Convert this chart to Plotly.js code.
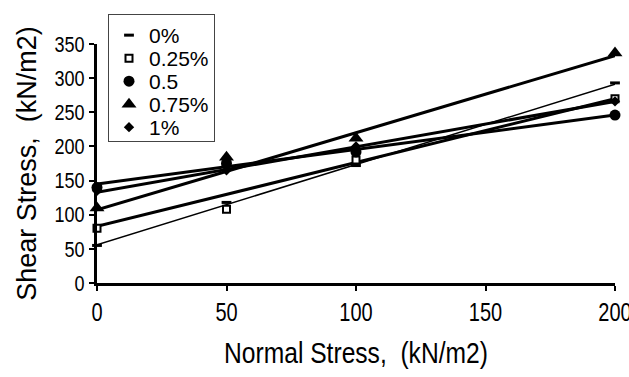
<!DOCTYPE html>
<html><head><meta charset="utf-8">
<script src="https://cdn.plot.ly/plotly-3.0.1.min.js"></script>
<style>html,body{margin:0;padding:0;background:#fff}#c{width:629px;height:377px}</style>
</head><body><div id="c"></div>
<script>
// Data
const normalStress = [0, 50, 100, 200];
const seriesNames = ["0%", "0.25%", "0.5", "0.75%", "1%"];
const shear0 = [55, 118, 172, 293];
const shear025 = [80, 108, 180, 270];
const shear05 = [140, 175, 192, 246];
const shear075 = [110, 184, 212, 337];
const shear1 = [135, 165, 200, 266];
// Linear trend line values (at normal stress 0 and 200)
const trendX = [0, 200];
const trend0 = [56, 291];
const trend025 = [83, 270];
const trend05 = [145, 246];
const trend075 = [107, 333];
const trend1 = [133, 266];

const FN = "Liberation Sans, Arial";
const symbols = ["line-ew", "square", "circle", "triangle-up", "diamond"];
const sizes = [7, 7, 11, 13, 8];
const seriesY = [shear0, shear025, shear05, shear075, shear1];
const trends = [trend0, trend025, trend05, trend075, trend1];
const trendW = [1.5, 3, 3, 3, 3];

const traces = [];
for (let i = 0; i < 5; i++) {
  traces.push({
    x: trendX, y: trends[i], mode: "lines", showlegend: false,
    line: {color: "#000", width: trendW[i]}, hoverinfo: "skip"
  });
}
for (let i = 0; i < 5; i++) {
  const isSq = symbols[i] === "square";
  const isDash = symbols[i] === "line-ew";
  traces.push({
    x: normalStress, y: seriesY[i], mode: "markers", name: seriesNames[i],
    cliponaxis: false,
    marker: {
      symbol: symbols[i], size: sizes[i],
      color: isSq ? "#fff" : "#000",
      line: {color: "#000", width: isDash ? 3 : (isSq ? 2 : 0)}
    }
  });
}

const layout = {
  width: 629, height: 377,
  margin: {l: 97, r: 14, t: 44, b: 94, autoexpand: false},
  paper_bgcolor: "#fff", plot_bgcolor: "#fff",
  font: {family: FN, color: "#000", size: 20},
  xaxis: {
    range: [0, 200], tickvals: [0, 50, 100, 150, 200], automargin: false,
    ticklabeloverflow: "allow",
    showline: true, linecolor: "#000", linewidth: 3,
    ticks: "outside", ticklen: 5, tickwidth: 2, tickcolor: "#000",
    showgrid: false, zeroline: false,
    tickfont: {family: FN, size: 25},
    title: {text: "Normal Stress,  (kN/m2)", font: {family: FN, size: 30}, standoff: 17}
  },
  yaxis: {
    range: [0, 350], tickvals: [0, 50, 100, 150, 200, 250, 300, 350], automargin: false,
    showline: true, linecolor: "#000", linewidth: 3,
    ticks: "outside", ticklen: 5, tickwidth: 2, tickcolor: "#000",
    showgrid: false, zeroline: false,
    tickfont: {family: FN, size: 22},
    title: {text: "Shear Stress,  (kN/m2)", font: {family: FN, size: 27}, standoff: 4}
  },
  legend: {
    x: 11/518, y: (283-14)/239, xref: "paper", yref: "paper",
    xanchor: "left", yanchor: "top",
    bordercolor: "#444", borderwidth: 1, bgcolor: "#fff",
    font: {family: FN, size: 21}, tracegroupgap: 0, itemwidth: 30
  }
};
Plotly.newPlot("c", traces, layout, {displayModeBar: false, staticPlot: true}).then(() => {
  const condense = (sel, f) => document.querySelectorAll(sel).forEach(t => {
    const L = t.getComputedTextLength();
    t.setAttribute("textLength", L * f);
    t.setAttribute("lengthAdjust", "spacingAndGlyphs");
  });
  condense(".xtick text", 0.8);
  condense(".ytick text", 0.82);
  condense(".g-xtitle text", 0.82);
  // tighten legend rows
  const items = Array.from(document.querySelectorAll(".legend .traces"));
  const pos = items.map(g => (g.getAttribute("transform") || "").match(/translate\(\s*([-\d.e]+)[ ,]+([-\d.e]+)\s*\)/));
  if (items.length > 1 && pos.every(p => p)) {
    const y0 = +pos[0][2];
    const s = +pos[1][2] - y0, ns = 23;
    items.forEach((g, i) => g.setAttribute("transform", `translate(${+pos[i][1]},${y0 + i * ns})`));
    const bg = document.querySelector(".legend .bg");
    if (bg) bg.setAttribute("height", +bg.getAttribute("height") - items.length * (s - ns));
  }
});
</script></body></html>
